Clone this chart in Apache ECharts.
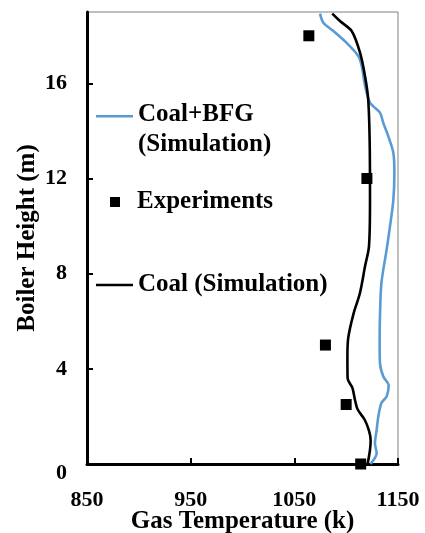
<!DOCTYPE html>
<html>
<head>
<meta charset="utf-8">
<script src="https://cdn.jsdelivr.net/npm/echarts@6/dist/echarts.min.js"></script>
<style>html,body{margin:0;padding:0;background:#fff}#c{width:425px;height:533px}</style>
</head>
<body>
<div id="c"></div>
<script>
// Coal+BFG (Simulation): [gas temperature (K), boiler height (m)]
var bfgSim = [
  [1074.8, 18.93], [1078, 18.55], [1087.7, 18.2], [1100.5, 17.7], [1111.7, 17.15],
  [1115, 16.73], [1118.2, 15.9], [1123, 15.19], [1132.6, 14.77], [1135.8, 14.34],
  [1140.6, 13.78], [1145.5, 13.08], [1146.5, 12.24], [1145.5, 11.1], [1142.3, 10.0],
  [1139, 9.0], [1134, 7.6], [1132.6, 6.2], [1132.3, 5.0], [1132.6, 4.24],
  [1135.8, 3.68], [1141, 3.3], [1139, 2.84], [1134, 2.56], [1131, 1.99],
  [1129.4, 1.43], [1127.8, 0.87], [1129.4, 0.45], [1123.5, 0.0]
];
// Coal (Simulation)
var coalSim = [
  [1086.6, 18.93], [1094, 18.62], [1105.3, 18.2], [1113.3, 17.3], [1118.2, 16.3],
  [1121.3, 15.3], [1122.8, 13.2], [1123, 11.1], [1122, 9.15], [1118.2, 8.31],
  [1113.3, 7.19], [1107, 6.3], [1102, 5.3], [1101.2, 4.5], [1101.4, 3.6],
  [1106, 3.2], [1108.5, 2.69], [1111, 2.3], [1118, 1.85], [1122, 1.4],
  [1123.6, 1.0], [1123, 0.6], [1120.7, 0.0]
];
// Experiments
var experiments = [
  [1064, 18], [1120, 12], [1080, 5], [1100, 2.5], [1114, 0]
];
var xTicks = [850, 950, 1050, 1150];
var yTicks = [0, 4, 8, 12, 16];

var FONT = "'Liberation Serif', 'Times New Roman', serif";
var chart = echarts.init(document.getElementById('c'), null, {renderer: 'canvas'});
var legendText = {fontFamily: FONT, fontWeight: 'bold', fontSize: 25, color: '#000', lineHeight: 30};
chart.setOption({
  animation: false,
  backgroundColor: '#fff',
  grid: {left: 87, right: 27, top: 12, bottom: 69, containLabel: false, outerBoundsMode: 'none',
         show: true, borderColor: '#808080', borderWidth: 1, backgroundColor: 'transparent'},
  xAxis: {
    type: 'value', min: 850, max: 1150, interval: 100,
    name: 'Gas Temperature (k)', nameLocation: 'middle', nameGap: 45, nameMoveOverlap: false,
    nameTextStyle: {fontFamily: FONT, fontWeight: 'bold', fontSize: 25, color: '#000'},
    axisLine: {show: true, onZero: false, lineStyle: {color: '#000', width: 3}},
    axisTick: {show: true, inside: true, length: 6, lineStyle: {color: '#000', width: 2}, customValues: xTicks},
    axisLabel: {fontFamily: FONT, fontWeight: 'bold', fontSize: 22, color: '#000', margin: 25, customValues: xTicks,
                formatter: function (v) { return String(v); }},
    splitLine: {show: false}
  },
  yAxis: {
    type: 'value', min: 0, max: 19, interval: 4,
    name: 'Boiler Height (m)', nameLocation: 'middle', nameGap: 47, nameRotate: 90, nameMoveOverlap: false,
    nameTextStyle: {fontFamily: FONT, fontWeight: 'bold', fontSize: 25, color: '#000'},
    axisLine: {show: true, onZero: false, lineStyle: {color: '#000', width: 3}},
    axisTick: {show: true, inside: true, length: 6, lineStyle: {color: '#000', width: 2}, customValues: yTicks},
    axisLabel: {fontFamily: FONT, fontWeight: 'bold', fontSize: 22, color: '#000', margin: 20, customValues: yTicks,
                formatter: function (v) { return v === 0 ? '{z|0}' : String(v); },
                rich: {z: {fontFamily: FONT, fontWeight: 'bold', fontSize: 22, color: '#000', padding: [18, 0, 0, 0]}}},
    splitLine: {show: false}
  },
  legend: [
    {data: ['Coal+BFG (Simulation)'], left: 96, top: 100, padding: 0,
     icon: 'path://M0,0 L37,0 L37,2.5 L0,2.5 Z M0,30 L0.001,30', itemWidth: 37, itemHeight: 30,
     itemStyle: {color: '#5B9BD5', borderWidth: 0},
     formatter: function () { return 'Coal+BFG\n(Simulation)'; },
     textStyle: legendText},
    {data: ['Experiments'], left: 110, top: 187, padding: 0, icon: 'rect', itemWidth: 10, itemHeight: 10,
     textStyle: Object.assign({}, legendText, {padding: [0, 0, 0, 12]})},
    {data: ['Coal (Simulation)'], left: 96, top: 270, padding: 0, icon: 'rect', itemWidth: 37, itemHeight: 2.5,
     itemStyle: {color: '#000'},
     textStyle: legendText}
  ],
  series: [
    {name: 'Coal+BFG (Simulation)', type: 'line', data: bfgSim, smooth: 0.3, symbol: 'none',
     lineStyle: {color: '#5B9BD5', width: 2.6}, itemStyle: {color: '#5B9BD5'}, z: 2},
    {name: 'Coal (Simulation)', type: 'line', data: coalSim, smooth: 0.3, symbol: 'none',
     lineStyle: {color: '#000', width: 2.6}, itemStyle: {color: '#000'}, z: 3},
    {name: 'Experiments', type: 'scatter', data: experiments, symbol: 'rect', symbolSize: 11,
     itemStyle: {color: '#000', opacity: 1}, z: 4}
  ]
});
</script>
</body>
</html>
